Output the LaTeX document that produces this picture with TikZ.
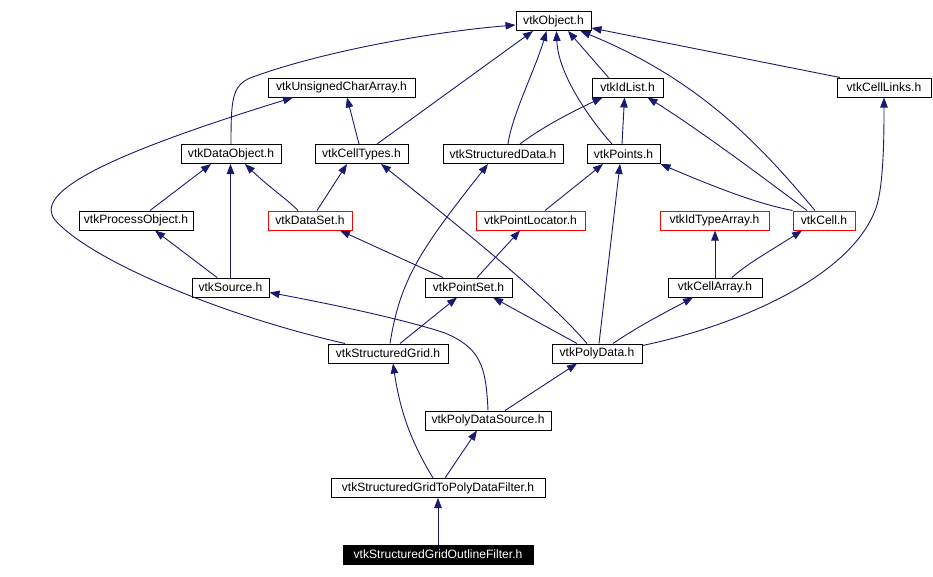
\documentclass[tikz,border=0pt]{standalone}
\usepackage{fontspec}
\setmainfont{Liberation Sans}
\usetikzlibrary{arrows.meta,calc}
\definecolor{edgeblue}{HTML}{191970}
\begin{document}
\begin{tikzpicture}[x=1pt,y=-1pt,
  box/.style={draw=black, line width=1pt, fill=white, minimum height=19pt, inner sep=0pt,
    font=\fontsize{12.1}{12}\selectfont},
  redbox/.style={box, draw=red},
  blackbox/.style={box, fill=black, text=white},
  edge/.style={draw=edgeblue, line width=0.9pt, -{Triangle[length=10pt,width=7.5pt]}}]
\useasboundingbox (0,0) rectangle (933,576);
% row 1
\node[box, minimum width=75pt] (obj) at (553.5,21) {vtkObject.h};
% row 2
\node[box, minimum width=147pt] (uca) at (341.5,87.5) {vtkUnsignedCharArray.h};
\node[box, minimum width=71pt] (idlist) at (627.5,87.5) {vtkIdList.h};
\node[box, minimum width=94pt] (celllinks) at (884,87.5) {vtkCellLinks.h};
% row 3
\node[box, minimum width=100pt] (dataobj) at (231,154) {vtkDataObject.h};
\node[box, minimum width=93pt] (celltypes) at (361.5,154) {vtkCellTypes.h};
\node[box, minimum width=120pt] (structdata) at (503,154) {vtkStructuredData.h};
\node[box, minimum width=73pt] (points) at (623.5,154) {vtkPoints.h};
% row 4
\node[box, minimum width=114pt] (procobj) at (136,220.5) {vtkProcessObject.h};
\node[redbox, minimum width=84pt] (dataset) at (310,220.5) {vtkDataSet.h};
\node[redbox, minimum width=109pt] (pointloc) at (530.5,220.5) {vtkPointLocator.h};
\node[redbox, minimum width=109pt] (idtype) at (714.5,220.5) {vtkIdTypeArray.h};
\node[redbox, minimum width=62pt] (cell) at (824,220.5) {vtkCell.h};
% row 5
\node[box, minimum width=77pt] (source) at (230.5,287.5) {vtkSource.h};
\node[box, minimum width=87pt] (pointset) at (468.5,287.5) {vtkPointSet.h};
\node[box, minimum width=94pt] (cellarray) at (715,287.5) {vtkCellArray.h};
% row 6
\node[box, minimum width=120pt] (sgrid) at (388,353.5) {vtkStructuredGrid.h};
\node[box, minimum width=90pt] (polydata) at (597,353.5) {vtkPolyData.h};
% row 7
\node[box, minimum width=126pt] (pds) at (488,420.5) {vtkPolyDataSource.h};
% row 8
\node[box, minimum width=214pt] (filter) at (438,488) {vtkStructuredGridToPolyDataFilter.h};
% row 9
\node[blackbox, minimum width=190pt] (outline) at (438,554.5) {vtkStructuredGridOutlineFilter.h};

% edges to vtkObject
\draw[edge] (dataobj.north) .. controls (231,100) and (232,86) .. (250,78) .. controls (320,52) and (430,32) .. ([yshift=-4pt]obj.west);
\draw[edge] ([xshift=15.5pt]celltypes.north) -- ([xshift=-20.5pt]obj.south);
\draw[edge] ([xshift=5pt]structdata.north) .. controls (512,115) and (535,70) .. ([xshift=-7pt]obj.south);
\draw[edge] ([xshift=-11.5pt]points.north) .. controls (592,122) and (558,75) .. ([xshift=3pt]obj.south);
\draw[edge] ([xshift=-19pt]idlist.north) -- ([xshift=14.5pt]obj.south);
\draw[edge] ([xshift=-9pt]cell.north) .. controls (760,145) and (700,80) .. ([xshift=27pt]obj.south);
\draw[edge] ([xshift=-44pt]celllinks.north) -- ([yshift=-7pt]obj.east);
% edges to vtkIdList
\draw[edge] ([xshift=17pt]structdata.north) .. controls (545,125) and (580,108) .. ([xshift=-25pt]idlist.south);
\draw[edge] ([xshift=-1.5pt]points.north) -- ([xshift=-3pt]idlist.south);
\draw[edge] ([xshift=-17pt]cell.north) .. controls (780,190) and (700,130) .. ([xshift=20pt]idlist.south);
% edge to vtkCellLinks
\draw[edge] ([yshift=8pt]polydata.east) .. controls (740,325) and (855,275) .. (877,205) .. controls (884,180) and (884,130) .. (celllinks.south);
% edges to vtkUnsignedCharArray
\draw[edge] ([xshift=-43pt]sgrid.north) .. controls (220,315) and (90,260) .. (55,220) .. controls (35,195) and (90,160) .. ([xshift=-48.5pt]uca.south);
\draw[edge] ([xshift=-2.5pt]celltypes.north) -- ([xshift=5.5pt]uca.south);
% edges to vtkDataObject
\draw[edge] ([xshift=14pt]procobj.north) -- ([xshift=-20pt]dataobj.south);
\draw[edge] (source.north) -- (source.north |- dataobj.south);
\draw[edge] ([xshift=-12pt]dataset.north) .. controls (288,200) and (270,188) .. ([xshift=14pt]dataobj.south);
% edges to vtkCellTypes
\draw[edge] ([xshift=7pt]dataset.north) -- ([xshift=-14.5pt]celltypes.south);
\draw[edge] ([xshift=-10pt]polydata.north) .. controls (550,300) and (470,235) .. ([xshift=19.5pt]celltypes.south);
% edges to vtkProcessObject, vtkDataSet, vtkPointLocator, vtkPoints
\draw[edge] ([xshift=-13.5pt]source.north) -- ([xshift=19pt]procobj.south);
\draw[edge] ([xshift=-25.5pt]pointset.north) -- ([xshift=30pt]dataset.south);
\draw[edge] ([xshift=8.5pt]pointset.north) -- ([xshift=-10.5pt]pointloc.south);
\draw[edge] ([xshift=14.5pt]pointloc.north) -- ([xshift=-20.5pt]points.south);
\draw[edge] ([xshift=2pt]polydata.north) -- ([xshift=-3.5pt]points.south);
\draw[edge] (cell.north west) .. controls (770,206) and (740,198) .. (points.south east);
% edges to vtkIdTypeArray, vtkCell
\draw[edge] (cellarray.north) -- (cellarray.north |- idtype.south);
\draw[edge] ([xshift=17pt]cellarray.north) .. controls (745,265) and (775,248) .. ([xshift=-22pt]cell.south);
% edges to vtkStructuredData, vtkPointSet
\draw[edge] ([xshift=2pt]sgrid.north) .. controls (400,280) and (420,250) .. ([xshift=-15pt]structdata.south);
\draw[edge] ([xshift=12pt]sgrid.north) -- ([xshift=-11.5pt]pointset.south);
\draw[edge] ([xshift=-20pt]polydata.north) -- ([xshift=24.5pt]pointset.south);
% edges to vtkSource, vtkPolyData, vtkCellArray
\draw[edge] (pds.north) .. controls (486,365) and (480,348) .. (445,333) .. controls (400,318) and (320,302) .. ([yshift=-5pt]source.east);
\draw[edge] ([xshift=17pt]pds.north) -- ([xshift=-20pt]polydata.south);
\draw[edge] ([xshift=16pt]polydata.north) .. controls (640,325) and (670,310) .. ([xshift=-22pt]cellarray.south);
% lower edges
\draw[edge] ([xshift=-5pt]filter.north) .. controls (410,440) and (400,410) .. ([xshift=5pt]sgrid.south);
\draw[edge] ([xshift=7pt]filter.north) -- ([xshift=-11pt]pds.south);
\draw[edge] (outline.north) -- (filter.south);
\end{tikzpicture}
\end{document}
